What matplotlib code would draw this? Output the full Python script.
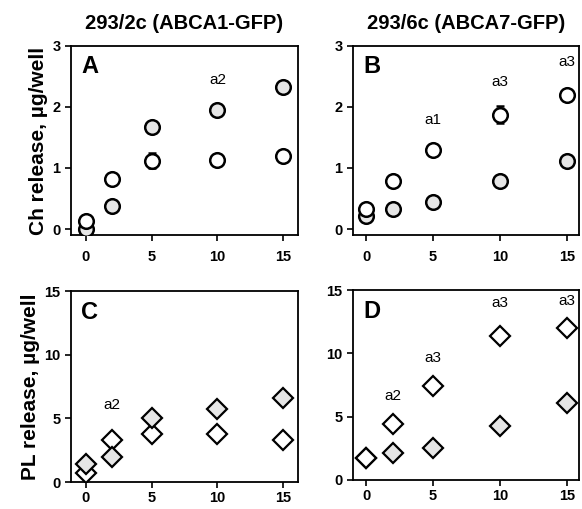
import matplotlib
matplotlib.use("Agg")
import matplotlib.pyplot as plt

plt.rcParams['font.family'] = ['Liberation Sans', 'DejaVu Sans']

time = [0, 2, 5, 10, 15]

# panel A: 293/2c cholesterol
ch_a_grey = [0.0, 0.37, 1.67, 1.95, 2.33]
ch_a_open = [0.13, 0.82, 1.12, 1.13, 1.20]
ch_a_grey_err = [0.05, 0.03, 0.05, 0.05, 0.09]
ch_a_open_err = [0.10, 0.03, 0.12, 0.03, 0.03]

# panel B: 293/6c cholesterol
ch_b_open = [0.33, 0.79, 1.29, 1.87, 2.19]
ch_b_grey = [0.21, 0.33, 0.44, 0.78, 1.12]
ch_b_open_err = [0.03, 0.03, 0.03, 0.14, 0.03]
ch_b_grey_err = [0.03, 0.03, 0.03, 0.03, 0.03]

# panel C: 293/2c phospholipid
pl_c_grey = [1.45, 2.0, 5.0, 5.7, 6.6]
pl_c_open = [0.7, 3.3, 3.75, 3.8, 3.3]

# panel D: 293/6c phospholipid
pl_d_open = [1.77, 4.43, 7.4, 11.4, 12.0]
pl_d_grey = [1.77, 2.1, 2.5, 4.3, 6.07]

notes_a = [("a2", 10, 2.32)]
notes_b = [("a1", 5, 1.67), ("a3", 10, 2.3), ("a3", 15, 2.62)]
notes_c = [("a2", 2, 5.5)]
notes_d = [("a2", 2, 6.1), ("a3", 5, 9.1), ("a3", 10, 13.4), ("a3", 15, 13.6)]

grey = '#e6e6e6'

fig = plt.figure(figsize=(5.82, 5.09), dpi=100)
ax_a = fig.add_axes([0.122, 0.538, 0.390, 0.372])
ax_b = fig.add_axes([0.6065, 0.538, 0.388, 0.372])
ax_c = fig.add_axes([0.122, 0.053, 0.390, 0.375])
ax_d = fig.add_axes([0.6065, 0.057, 0.388, 0.373])


def style(ax, ylim, yticks, letter, xpad):
    ax.set_xlim(-1.1, 16.1)
    ax.set_ylim(*ylim)
    ax.set_xticks([0, 5, 10, 15])
    ax.set_yticks(yticks)
    for s in ax.spines.values():
        s.set_linewidth(1.3)
    ax.tick_params(direction='out', length=4, width=1.2, labelsize=10.5)
    ax.tick_params(axis='x', pad=xpad)
    for lab in ax.get_xticklabels() + ax.get_yticklabels():
        lab.set_fontweight('bold')
    ax.text(0.045, 0.95, letter, transform=ax.transAxes, fontsize=17,
            fontweight='bold', va='top', ha='left')


def circles(ax, y, err, face):
    ax.errorbar(time, y, yerr=err, fmt='o', ms=10.5, mfc=face, mec='black',
                mew=1.8, ecolor='black', elinewidth=1.5, capsize=3,
                capthick=1.5, zorder=3)


def diamonds(ax, y, face):
    ax.plot(time, y, 'D', ms=10.5, mfc=face, mec='black', mew=1.6,
            linestyle='none', zorder=3)


def notes(ax, items):
    for txt, x, y in items:
        ax.text(x, y, txt, ha='center', va='bottom', fontsize=11)


circles(ax_a, ch_a_grey, ch_a_grey_err, grey)
circles(ax_a, ch_a_open, ch_a_open_err, 'white')
notes(ax_a, notes_a)
style(ax_a, (-0.1, 3.0), [0, 1, 2, 3], 'A', 7)

circles(ax_b, ch_b_grey, ch_b_grey_err, grey)
circles(ax_b, ch_b_open, ch_b_open_err, 'white')
notes(ax_b, notes_b)
style(ax_b, (-0.1, 3.0), [0, 1, 2, 3], 'B', 7)
ax_b.set_xlim(-1.0, 15.9)

diamonds(ax_c, pl_c_open, 'white')
diamonds(ax_c, pl_c_grey, grey)
notes(ax_c, notes_c)
style(ax_c, (0, 15), [0, 5, 10, 15], 'C', 2.5)

diamonds(ax_d, pl_d_grey, grey)
diamonds(ax_d, pl_d_open, 'white')
notes(ax_d, notes_d)
style(ax_d, (0, 15), [0, 5, 10, 15], 'D', 2.5)
ax_d.set_xlim(-1.0, 15.9)

ax_a.set_title('293/2c (ABCA1-GFP)', fontsize=14.5, fontweight='bold', pad=12)
ax_b.set_title('293/6c (ABCA7-GFP)', fontsize=14.5, fontweight='bold', pad=12)
ax_a.set_ylabel('Ch release, \u00b5g/well', fontsize=15, fontweight='bold',
                labelpad=3)
ax_c.set_ylabel('PL release, \u00b5g/well', fontsize=15, fontweight='bold',
                labelpad=3)

fig.savefig('out.png', dpi=100)
